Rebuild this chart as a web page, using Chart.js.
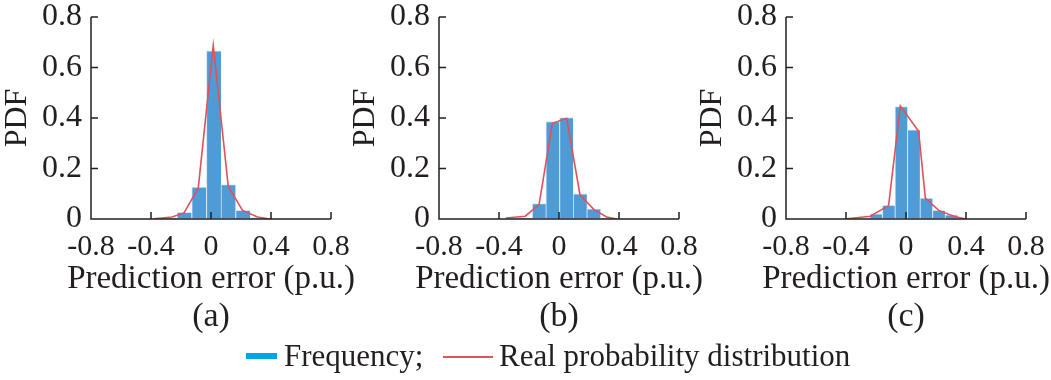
<!DOCTYPE html>
<html><head><meta charset="utf-8">
<script src="https://cdn.jsdelivr.net/npm/chart.js@4.4.1/dist/chart.umd.min.js"></script>
<style>
html,body{margin:0;padding:0;background:#fff;}
#wrap{position:relative;width:1051px;height:380px;overflow:hidden;font-family:"Liberation Serif","Times New Roman",serif;color:#231f20;}
canvas{position:absolute;top:0;}
.lg{position:absolute;font-size:31px;line-height:31px;white-space:nowrap;}
</style></head>
<body>
<div id="wrap">
  <canvas id="ca" width="380" height="340" style="left:0px;width:380px;height:340px"></canvas>
  <canvas id="cb" width="380" height="340" style="left:348px;width:380px;height:340px"></canvas>
  <canvas id="cc" width="380" height="340" style="left:695px;width:380px;height:340px"></canvas>
  <div style="position:absolute;left:246px;top:353px;width:31px;height:6px;background:#00a5e6"></div>
  <div class="lg" style="left:284px;top:340px">Frequency;</div>
  <div style="position:absolute;left:443px;top:356px;width:50px;height:1.6px;background:#e0515c"></div>
  <div class="lg" style="left:499px;top:340px">Real probability distribution</div>
</div>
<script>
// ---- data ----
const panelLabels = ['(a)', '(b)', '(c)'];
const xAxisTitle = 'Prediction error (p.u.)';
const yAxisTitle = 'PDF';
const xTickLabels = ['-0.8', '-0.4', '0', '0.4', '0.8'];
const yTickLabels = ['0', '0.2', '0.4', '0.6', '0.8'];

const binCentersA = [-0.275, -0.178, -0.080, 0.018, 0.115, 0.213, 0.310];
const freqA       = [0.003, 0.026, 0.126, 0.666, 0.136, 0.034, 0.005];
const pdfXA = [-0.38, -0.26, -0.18, -0.085, 0.015, 0.115, 0.21, 0.31, 0.39];
const pdfYA = [0.001, 0.008, 0.024, 0.122, 0.688, 0.129, 0.034, 0.008, 0.0];

const binCentersB = [-0.224, -0.133, -0.042, 0.049, 0.140, 0.231, 0.322];
const freqB       = [0.004, 0.061, 0.386, 0.402, 0.100, 0.040, 0.004];
const pdfXB = [-0.354, -0.225, -0.133, -0.044, 0.051, 0.14, 0.233, 0.318, 0.384];
const pdfYB = [0.004, 0.011, 0.057, 0.379, 0.399, 0.096, 0.037, 0.008, 0.0];

const binCentersC = [-0.199, -0.116, -0.032, 0.051, 0.135, 0.218, 0.302];
const freqC       = [0.020, 0.054, 0.445, 0.353, 0.083, 0.034, 0.017];
const pdfXC = [-0.393, -0.238, -0.116, -0.038, 0.084, 0.129, 0.218, 0.318, 0.396];
const pdfYC = [0.001, 0.011, 0.053, 0.448, 0.347, 0.083, 0.034, 0.011, 0.0];

// ---- styles ----
const FONT = '"Liberation Serif", "Times New Roman", serif';
const TEXT = '#231f20';
const AXIS = '#231f20';
const BAR = '#4f9bd6';
const BAR_EDGE = '#d3e6f6';
const RED = '#e0515c';

const axesPlugin = {
  id: 'axesPlugin',
  afterDatasetsDraw(chart) {
    const {ctx, chartArea: a, scales: {x, y}} = chart;
    ctx.save();
    ctx.strokeStyle = AXIS;
    ctx.lineWidth = 1.5;
    ctx.beginPath();
    ctx.moveTo(a.left, a.top);
    ctx.lineTo(a.left, a.bottom);
    ctx.lineTo(a.right, a.bottom);
    x.ticks.forEach((t, i) => {
      if (i === 0) return;
      const px = x.getPixelForTick(i);
      ctx.moveTo(px, a.bottom);
      ctx.lineTo(px, a.bottom - 7);
    });
    y.ticks.forEach((t, i) => {
      if (i === 0) return;
      const py = y.getPixelForTick(i);
      ctx.moveTo(a.left, py);
      ctx.lineTo(a.left + 7, py);
    });
    ctx.stroke();
    ctx.restore();
  },
  afterDraw(chart, args, opts) {
    const {ctx, chartArea: a} = chart;
    const cx = (a.left + a.right) / 2;
    ctx.save();
    ctx.fillStyle = TEXT;
    ctx.textAlign = 'center';
    ctx.textBaseline = 'middle';
    ctx.font = 'normal 33px ' + FONT;
    ctx.fillText(opts.xTitle, cx, a.bottom + 60);
    ctx.font = 'normal 34px ' + FONT;
    ctx.fillText(opts.label, cx, a.bottom + 98.5);
    ctx.restore();
  }
};

function makePanel(id, label, centers, freq, px, py) {
  new Chart(document.getElementById(id), {
    type: 'bar',
    data: {
      datasets: [
        {
          type: 'line',
          data: px.map((v, i) => ({x: v, y: py[i]})),
          borderColor: RED,
          borderWidth: 1.6,
          pointRadius: 0,
          tension: 0,
          fill: false,
          order: 1
        },
        {
          type: 'bar',
          data: centers.map((v, i) => ({x: v, y: freq[i]})),
          backgroundColor: BAR,
          borderColor: BAR_EDGE,
          borderWidth: {left: 1, top: 1, right: 0, bottom: 0},
          borderSkipped: false,
          barPercentage: 1,
          categoryPercentage: 1,
          order: 2
        }
      ]
    },
    options: {
      responsive: false,
      animation: false,
      devicePixelRatio: 1,
      layout: {padding: {top: 17, right: 49, left: 0, bottom: 0}},
      plugins: {
        legend: {display: false},
        tooltip: {enabled: false},
        title: {display: false},
        axesPlugin: {xTitle: xAxisTitle, label: label}
      },
      scales: {
        x: {
          type: 'linear', min: -0.8, max: 0.8, offset: false,
          grid: {display: true, drawOnChartArea: false, drawTicks: false, offset: false},
          border: {display: false},
          ticks: {
            stepSize: 0.4, padding: 10, color: TEXT, maxRotation: 0, autoSkip: false,
            font: {family: FONT, size: 30, lineHeight: 1.2},
            callback: (v, i) => xTickLabels[i]
          },
          title: {display: false},
          afterFit(s) {
            s.height = 121;
            s.paddingLeft = 0; s.paddingRight = 0; s.paddingTop = 0; s.paddingBottom = 0;
          }
        },
        y: {
          min: 0, max: 0.8,
          grid: {display: true, drawOnChartArea: false, drawTicks: false},
          border: {display: false},
          ticks: {
            stepSize: 0.2, padding: 9, color: TEXT,
            font: {family: FONT, size: 32, lineHeight: 1.0},
            callback: (v, i) => yTickLabels[i]
          },
          title: {
            display: true, text: yAxisTitle, color: TEXT,
            font: {family: FONT, size: 32, lineHeight: 1.1},
            padding: {top: 0, bottom: 0}
          },
          afterFit(s) {
            s.width = 91;
            s.paddingLeft = 0; s.paddingRight = 0; s.paddingTop = 0; s.paddingBottom = 0;
          }
        }
      }
    },
    plugins: [axesPlugin]
  });
}

makePanel('ca', panelLabels[0], binCentersA, freqA, pdfXA, pdfYA);
makePanel('cb', panelLabels[1], binCentersB, freqB, pdfXB, pdfYB);
makePanel('cc', panelLabels[2], binCentersC, freqC, pdfXC, pdfYC);
</script>
</body></html>
